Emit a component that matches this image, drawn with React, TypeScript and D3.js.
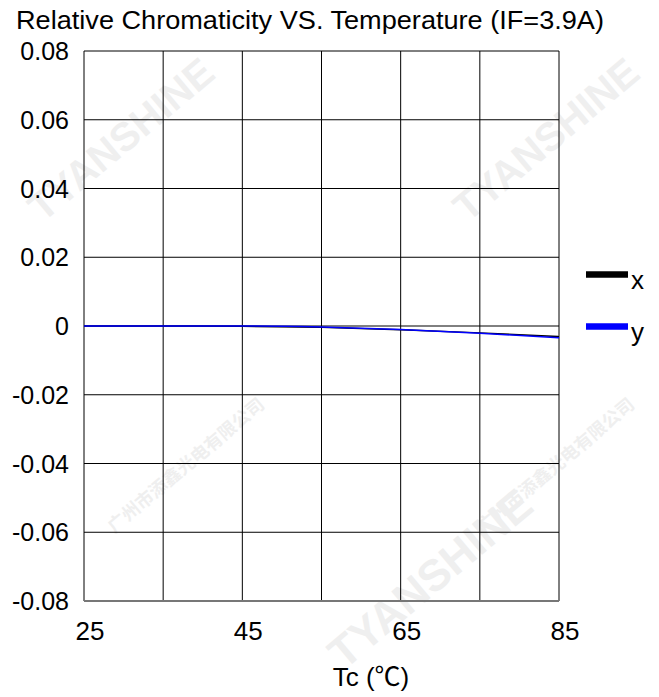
import * as d3 from 'd3';

const temps = [25, 35, 45, 55, 65, 75, 85];
const xSeries = [0, 0, -0.0001, -0.0004, -0.0011, -0.002, -0.0031];
const ySeries = [0, 0, 0, -0.0003, -0.001, -0.0021, -0.0034];
const yTickValues = [0.08, 0.06, 0.04, 0.02, 0, -0.02, -0.04, -0.06, -0.08];
const xTickLabels = [25, 45, 65, 85];
const xGrid = [25, 35, 45, 55, 65, 75, 85];

const series = [
  { id: 'x', label: 'x', color: '#000000', values: xSeries },
  { id: 'y', label: 'y', color: '#0000ff', values: ySeries },
];

// faint diagonal watermarks as in the source image
const watermarks = [
  { text: 'TYANSHINE', x: 130, y: 150, size: 40 },
  { text: 'TYANSHINE', x: 555, y: 150, size: 40 },
  { text: 'TYANSHINE', x: 440, y: 590, size: 44 },
  { text: '广州市添鑫光电有限公司', x: 190, y: 470, size: 18 },
  { text: '广州市添鑫光电有限公司', x: 560, y: 470, size: 18 },
];

// hyphen instead of unicode minus, like the source
const fmt = (v: number) => (v === 0 ? '0' : d3.format('.2f')(v).replace('−', '-'));

export default function App() {
  const W = 659;
  const H = 697;
  const left = 84;
  const right = 559;
  const top = 51;
  const bottom = 601;

  const xScale = d3.scaleLinear().domain([25, 85]).range([left, right]);
  const yScale = d3.scaleLinear().domain([-0.08, 0.08]).range([bottom, top]);

  const line = d3
    .line<number>()
    .x((_, i) => xScale(temps[i]))
    .y((d) => yScale(d))
    .curve(d3.curveMonotoneX);

  const font = 'Arial, "Liberation Sans", sans-serif';

  return (
    <svg width={W} height={H} style={{ position: 'absolute', left: 0, top: 0, background: '#fff' }}>
      <g fill="#efefef" fontFamily={`${font}, "Noto Sans CJK SC"`} fontWeight="bold">
        {watermarks.map((w, i) => (
          <text
            key={i}
            x={w.x}
            y={w.y}
            fontSize={w.size}
            textAnchor="middle"
            transform={`rotate(-40,${w.x},${w.y})`}
          >
            {w.text}
          </text>
        ))}
      </g>

      <text x={16} y={29} fontSize={26} fontFamily={font} fill="#000" textLength={588} lengthAdjust="spacingAndGlyphs">
        Relative Chromaticity VS. Temperature (IF=3.9A)
      </text>

      {/* grid */}
      {yTickValues.map((t) => (
        <line key={`gy${t}`} x1={left} x2={right} y1={yScale(t)} y2={yScale(t)} stroke="#000" strokeWidth={1} />
      ))}
      {xGrid.map((t) => (
        <line key={`gx${t}`} x1={xScale(t)} x2={xScale(t)} y1={top} y2={bottom} stroke="#000" strokeWidth={1} />
      ))}
      <line x1={left} x2={right} y1={bottom} y2={bottom} stroke="#777" strokeWidth={2} />

      {/* y labels */}
      {yTickValues.map((t) => (
        <text key={`ly${t}`} x={69} y={yScale(t) + 9} fontSize={25} textAnchor="end" fontFamily={font} fill="#000">
          {fmt(t)}
        </text>
      ))}
      {/* x labels */}
      {xTickLabels.map((t) => (
        <text key={`lx${t}`} x={xScale(t) + 6} y={640} fontSize={26} textAnchor="middle" fontFamily={font} fill="#000">
          {t}
        </text>
      ))}
      <text x={371} y={686} fontSize={26} textAnchor="middle" fontFamily={`${font}, "Noto Sans CJK SC"`} fill="#000">
        Tc (℃)
      </text>

      {/* data */}
      {series.map((s) => (
        <path key={s.id} d={line(s.values) ?? ''} fill="none" stroke={s.color} strokeWidth={1.5} />
      ))}

      {/* legend */}
      {series.map((s, i) => {
        const ly = 274.5 + i * 52;
        return (
          <g key={`leg${s.id}`}>
            <line x1={586} x2={628} y1={ly} y2={ly} stroke={s.color} strokeWidth={6.5} />
            <text x={631} y={ly + 14} fontSize={26} fontFamily={font} fill="#000">
              {s.label}
            </text>
          </g>
        );
      })}
    </svg>
  );
}
